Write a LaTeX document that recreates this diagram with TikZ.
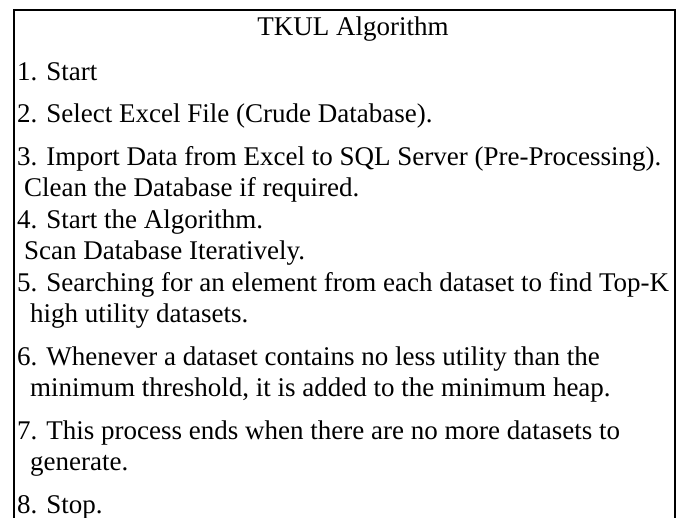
\documentclass[tikz,border=0pt]{standalone}
\usepackage{fontspec}
\setmainfont{Liberation Serif}
\begin{document}
\begin{tikzpicture}[x=1pt,y=-1pt,
  txt/.style={anchor=base west, inner sep=0pt, font=\fontsize{27}{31}\selectfont},
  frame/.style={line width=2pt, line join=miter}]
\useasboundingbox (0,0) rectangle (684,517);
% open frame, running off the bottom edge
\draw[frame] (14.3,540) -- (14.3,10.3) -- (675.3,10.3) -- (675.3,540);
% heading
\node[txt, anchor=base] (title) at (353,35) {TKUL Algorithm};
% steps
\node[txt] (s1)  at (17,80)    {1. Start};
\node[txt] (s2)  at (17,122.5) {2. Select Excel File (Crude Database).};
\node[txt] (s3a) at (17,165)   {3. Import Data from Excel to SQL Server (Pre-Processing).};
\node[txt] (s3b) at (24,196.5) {Clean the Database if required.};
\node[txt] (s4a) at (17,228)   {4. Start the Algorithm.};
\node[txt] (s4b) at (24,259.5) {Scan Database Iteratively.};
\node[txt] (s5a) at (17,291)   {5. Searching for an element from each dataset to find Top-K};
\node[txt] (s5b) at (30,322.5) {high utility datasets.};
\node[txt] (s6a) at (17,365)   {6. Whenever a dataset contains no less utility than the};
\node[txt] (s6b) at (30,396.5) {minimum threshold, it is added to the minimum heap.};
\node[txt] (s7a) at (17,439)   {7. This process ends when there are no more datasets to};
\node[txt] (s7b) at (30,470.5) {generate.};
\node[txt] (s8)  at (17,513)   {8. Stop.};
\end{tikzpicture}
\end{document}
